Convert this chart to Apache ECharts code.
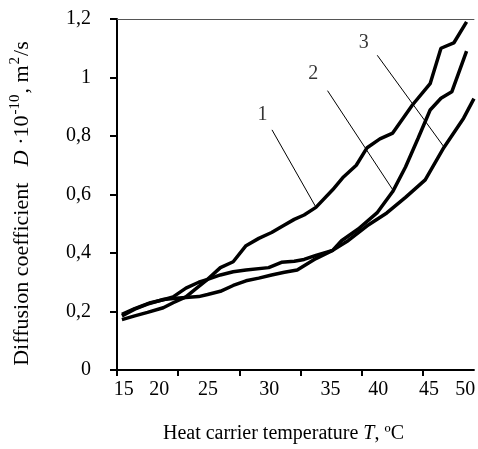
<!DOCTYPE html>
<html><head><meta charset="utf-8">
<script src="https://cdn.jsdelivr.net/npm/echarts@6/dist/echarts.min.js"></script>
<style>html,body{margin:0;padding:0;background:#fff}#c{width:478px;height:449px}</style>
</head><body><div id="c"></div>
<script>
// Curve 1
const curve1T = [15.0, 16.3, 17.9, 19.2, 20.2, 21.5, 22.8, 23.7, 25.0, 26.3, 27.6, 28.9, 30.2, 31.2, 32.5, 33.5, 34.7, 36.4, 37.5, 38.8, 39.9, 41.2, 42.5, 44.5, 46.3, 47.4, 48.7, 50.0];
const curve1D = [0.19, 0.21, 0.23, 0.24, 0.25, 0.28, 0.30, 0.31, 0.35, 0.37, 0.425, 0.45, 0.47, 0.49, 0.515, 0.53, 0.556, 0.616, 0.66, 0.70, 0.76, 0.79, 0.81, 0.906, 0.979, 1.10, 1.118, 1.19];
// Curve 2
const curve2T = [15.0, 16.3, 17.6, 19.2, 20.5, 21.8, 22.8, 23.7, 25.0, 26.3, 27.6, 28.9, 30.2, 31.5, 32.8, 34.7, 36.4, 37.3, 39.0, 40.9, 42.5, 43.8, 45.1, 46.3, 47.4, 48.5, 50.0];
const curve2D = [0.185, 0.208, 0.225, 0.241, 0.245, 0.249, 0.251, 0.258, 0.269, 0.289, 0.305, 0.314, 0.325, 0.334, 0.342, 0.381, 0.409, 0.442, 0.482, 0.537, 0.61, 0.694, 0.794, 0.889, 0.929, 0.951, 1.09];
// Curve 3
const curve3T = [15.0, 16.3, 17.6, 19.2, 20.2, 21.5, 22.4, 23.7, 25.0, 26.3, 27.6, 29.9, 31.2, 32.5, 33.5, 34.7, 36.4, 38.0, 39.9, 41.9, 43.8, 45.8, 47.7, 49.7, 50.75];
const curve3D = [0.172, 0.185, 0.197, 0.213, 0.23, 0.25, 0.275, 0.31, 0.325, 0.336, 0.342, 0.35, 0.368, 0.372, 0.378, 0.392, 0.409, 0.443, 0.493, 0.537, 0.59, 0.65, 0.761, 0.861, 0.928];

// Tick labels
const xTickLabels = ['15', '20', '25', '30', '35', '40', '45', '50'];
const yTickLabels = ['0', '0,2', '0,4', '0,6', '0,8', '1', '1,2'];

// Curve labels and their leader lines
const curveNames = ['1', '2', '3'];
const curveNameT = [29.27, 34.42, 39.57];
const curveNameD = [0.872, 1.012, 1.12];
const leaderFromT = [30.24, 35.88, 40.93];
const leaderFromD = [0.821, 0.955, 1.076];
const leaderToT = [34.71, 42.49, 47.74];
const leaderToD = [0.556, 0.617, 0.761];

const zip = (a, b) => a.map((v, i) => [v, b[i]]);
const FONT = '"Liberation Serif", "Times New Roman", serif';

// where the printed x labels and tick marks sit along the temperature scale
const xLabelAt = [15.18, 18.78, 23.73, 29.95, 36.17, 41.03, 46.18, 49.87];
const xTickAt = [14.5, 20.72, 26.94, 33.16, 39.38, 45.60];

const chart = echarts.init(document.getElementById('c'), null, {renderer: 'canvas'});
const lineStyle = {color: '#000', width: 3.5};
const option = {
  animation: false,
  backgroundColor: '#fff',
  grid: {left: 105, right: 0, top: 19, bottom: 72, containLabel: false},
  xAxis: [{
    type: 'value', min: 14.5, max: 50.75,
    name: 'Heat carrier temperature {i|T}, ºC',
    nameLocation: 'middle', nameGap: 54,
    nameTextStyle: {fontFamily: FONT, fontSize: 20, color: '#000', padding: [0, 24, 0, 0],
      rich: {i: {fontFamily: FONT, fontSize: 20, fontStyle: 'italic', color: '#000'}}},
    axisLine: {show: true, lineStyle: {color: '#000', width: 2}},
    axisTick: {show: true, length: 6, lineStyle: {color: '#000', width: 2}, customValues: xTickAt},
    axisLabel: {show: true, margin: 10, fontFamily: FONT, fontSize: 20, color: '#000',
      customValues: xLabelAt,
      formatter: (v) => {
        let best = 0;
        xLabelAt.forEach((p, i) => { if (Math.abs(p - v) < Math.abs(xLabelAt[best] - v)) best = i; });
        return xTickLabels[best];
      }},
    splitLine: {show: false}
  }, {
    type: 'value', position: 'top', min: 14.5, max: 50.75,
    axisLine: {show: true, onZero: false, lineStyle: {color: '#555', width: 1}},
    axisTick: {show: false}, axisLabel: {show: false}, splitLine: {show: false}
  }],
  yAxis: {
    type: 'value', min: 0, max: 1.2, interval: 0.2,
    name: 'Diffusion coefficient   {i|D} ·10{sup|-10}, m{sup|2}/s',
    nameLocation: 'middle', nameGap: 81, nameRotate: 90,
    nameTextStyle: {fontFamily: FONT, fontSize: 22, color: '#000', lineHeight: 28, padding: [0, 18, 0, 0],
      rich: {
        i: {fontFamily: FONT, fontSize: 22, fontStyle: 'italic', color: '#000', lineHeight: 28},
        sup: {fontFamily: FONT, fontSize: 15, color: '#000', verticalAlign: 'top', lineHeight: 28, padding: [0, 1, 10, 1]}
      }},
    axisLine: {show: true, lineStyle: {color: '#000', width: 2}},
    axisTick: {show: true, length: 7, lineStyle: {color: '#000', width: 2}},
    axisLabel: {margin: 26, fontFamily: FONT, fontSize: 20, color: '#000',
      formatter: (v) => yTickLabels[Math.round(v / 0.2)]},
    splitLine: {show: false}
  },
  series: [
    {type: 'line', name: '1', data: zip(curve1T, curve1D), showSymbol: false, symbol: 'none', lineStyle, clip: true},
    {type: 'line', name: '2', data: zip(curve2T, curve2D), showSymbol: false, symbol: 'none', lineStyle, clip: true},
    {type: 'line', name: '3', data: zip(curve3T, curve3D), showSymbol: false, symbol: 'none', lineStyle, clip: true},
    {type: 'lines', coordinateSystem: 'cartesian2d', silent: true,
      lineStyle: {color: '#000', width: 1, opacity: 1},
      data: curveNames.map((n, i) => ({coords: [[leaderFromT[i], leaderFromD[i]], [leaderToT[i], leaderToD[i]]]}))},
    {type: 'scatter', symbolSize: 0, silent: true,
      label: {show: true, position: 'inside', formatter: (p) => p.name, fontFamily: FONT, fontSize: 20, color: '#000'},
      data: curveNames.map((n, i) => ({name: n, value: [curveNameT[i], curveNameD[i]]}))}
  ]
};
chart.setOption(option);
</script></body></html>
